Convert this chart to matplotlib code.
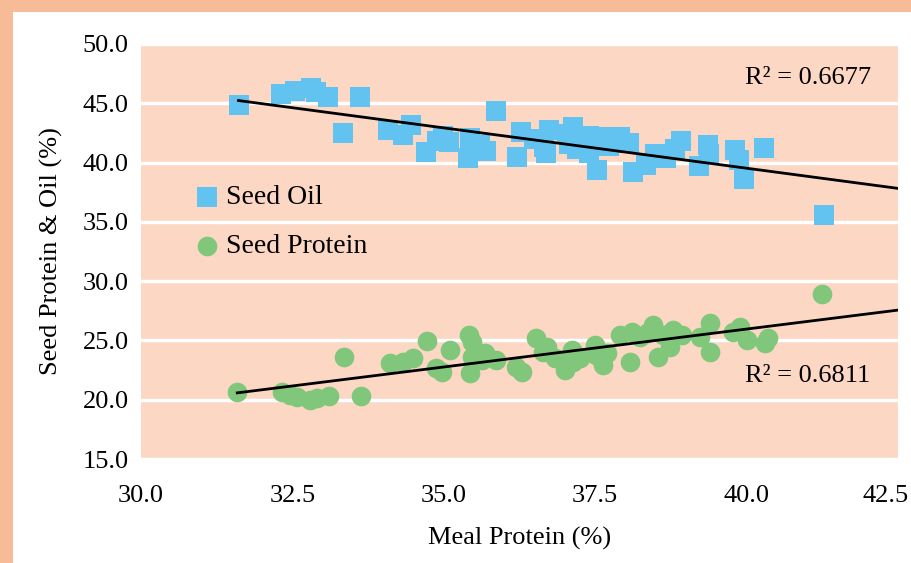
import numpy as np
import matplotlib
matplotlib.use("Agg")
import matplotlib.pyplot as plt
from matplotlib.patches import Rectangle
from matplotlib.transforms import ScaledTranslation

plt.rcParams['font.family'] = ['Liberation Serif', 'DejaVu Serif']

# Seed oil (%) vs meal protein (%)
oil_x = [31.61, 32.31, 32.55, 32.80, 32.89, 33.08, 33.62, 33.34, 34.08, 34.33,
         34.46, 34.71, 34.89, 34.98, 35.09, 35.44, 35.40, 35.70, 35.60, 35.87,
         36.28, 36.21, 36.49, 36.73, 36.65, 36.69, 37.03, 37.14, 37.06, 37.20,
         37.40, 37.40, 37.53, 37.73, 37.73, 37.91, 38.05, 38.13, 38.34, 38.48,
         38.67, 38.81, 38.91, 39.22, 39.37, 39.38, 39.81, 39.88, 39.96, 40.29,
         41.27]
oil_y = [44.83, 45.76, 46.01, 46.26, 45.93, 45.50, 45.50, 42.47, 42.72, 42.30,
         43.14, 40.87, 41.79, 42.24, 41.71, 42.10, 40.36, 40.95, 41.46, 44.32,
         42.55, 40.44, 41.96, 42.72, 41.34, 40.83, 42.38, 42.97, 41.54, 41.12,
         42.22, 40.81, 39.35, 42.13, 41.42, 42.13, 41.63, 39.18, 39.77, 40.70,
         40.36, 41.12, 41.79, 39.69, 41.46, 40.70, 41.04, 40.19, 38.59, 41.20,
         35.55]

# Seed protein (%) vs meal protein (%)
prot_x = [31.59, 32.33, 32.46, 32.58, 32.79, 32.91, 33.10, 33.35, 33.64, 34.11,
          34.33, 34.49, 34.72, 34.87, 34.97, 35.10, 35.42, 35.46, 35.43, 35.46,
          35.68, 35.63, 35.87, 36.20, 36.29, 36.52, 36.70, 36.64, 36.84, 37.00,
          37.11, 37.14, 37.25, 37.50, 37.52, 37.63, 37.69, 37.91, 38.07, 38.10,
          38.24, 38.46, 38.54, 38.62, 38.35, 38.74, 38.79, 38.93, 39.23, 39.39,
          39.39, 39.78, 39.89, 40.00, 40.30, 40.36, 41.24]
prot_y = [20.65, 20.61, 20.40, 20.23, 19.98, 20.12, 20.31, 23.58, 20.31, 23.07,
          23.21, 23.48, 24.95, 22.67, 22.34, 24.19, 25.46, 24.89, 22.23, 23.60,
          23.91, 23.35, 23.35, 22.78, 22.36, 25.18, 24.47, 24.05, 23.49, 22.51,
          24.19, 23.21, 23.49, 24.61, 23.77, 22.93, 23.91, 25.46, 23.21, 25.74,
          25.31, 26.30, 23.63, 25.46, 25.60, 24.47, 25.88, 25.46, 25.31, 26.44,
          24.05, 25.74, 26.16, 25.04, 24.76, 25.18, 28.92]

r2_labels = ["R\u00b2 = 0.6677", "R\u00b2 = 0.6811"]
x_ticks = [30.0, 32.5, 35.0, 37.5, 40.0, 42.5]
y_ticks = [15.0, 20.0, 25.0, 30.0, 35.0, 40.0, 45.0, 50.0]

fig = plt.figure(figsize=(9.11, 5.63), dpi=100)
fig.patch.set_facecolor('#F7BB98')
# white card on the orange background
card = Rectangle((13 / 911, 0), 1, 1 - 12 / 563, transform=fig.transFigure,
                 facecolor='white', edgecolor='none', zorder=-10)
fig.add_artist(card)

ax = fig.add_axes([141 / 911, 1 - 459 / 563, 757 / 911, 415 / 563])
ax.set_facecolor('#FBD7C4')

ax.scatter(oil_x, oil_y, marker='s', s=190, color='#63C3F0', linewidths=0,
           label='Seed Oil', zorder=3)
ax.scatter(prot_x, prot_y, marker='o', s=200, color='#80C77B', linewidths=0,
           label='Seed Protein', zorder=3)

# linear trend lines, extended to the right edge
for xs, ys in [(oil_x, oil_y), (prot_x, prot_y)]:
    k, b = np.polyfit(xs, ys, 1)
    xx = np.array([min(xs), 42.5])
    ax.plot(xx, k * xx + b, color='black', lw=2.0, zorder=4)

ax.text(42.05, 47.1, r2_labels[0], ha='right', va='center', fontsize=19)
ax.text(42.05, 22.0, r2_labels[1], ha='right', va='center', fontsize=19)

ax.set_xlim(30, 42.5)
ax.set_ylim(15, 50)
ax.set_xticks(x_ticks)
ax.set_yticks(y_ticks)
ax.set_xticklabels([f"{v:.1f}" for v in x_ticks])
ax.set_yticklabels([f"{v:.1f}" for v in y_ticks])
ax.tick_params(length=0, labelsize=19)
ax.tick_params(axis='y', pad=9)
ax.tick_params(axis='x', pad=19)
# Excel pulls the last x label in so it fits
lbl = ax.get_xticklabels()[-1]
lbl.set_transform(lbl.get_transform() + ScaledTranslation(-12 / 100, 0, fig.dpi_scale_trans))
ax.grid(axis='y', color='white', lw=2.5, zorder=1)
ax.set_axisbelow(True)
for sp in ax.spines.values():
    sp.set_visible(False)

ax.set_xlabel("Meal Protein (%)", fontsize=19, labelpad=14)
ax.set_ylabel("Seed Protein & Oil (%)", fontsize=19, labelpad=14)

ax.legend(loc='upper left', bbox_to_anchor=(0.069, 0.661), frameon=False,
          fontsize=20, handlelength=1.0, handletextpad=0.17, labelspacing=0.85,
          borderaxespad=0, borderpad=0)

fig.savefig("out.png", dpi=100, facecolor=fig.get_facecolor())
